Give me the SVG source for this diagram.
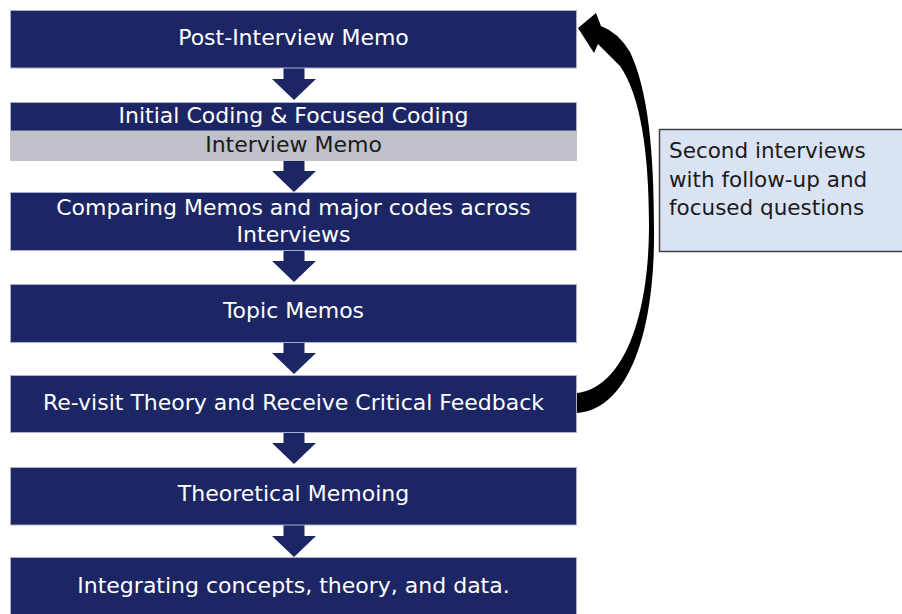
<svg xmlns="http://www.w3.org/2000/svg" width="902" height="614" viewBox="0 0 902 614">
  <style>
    .step { fill: #1c2664; stroke: #a9b0cc; stroke-width: 1; }
    .band { fill: #bfc0c8; }
    .lbl { font-family: "DejaVu Sans", "Liberation Sans", sans-serif; font-size: 22px; fill: #ffffff; text-anchor: middle; }
    .dark { fill: #1a1a1a; }
    .note { fill: #dae3f3; stroke: #404040; stroke-width: 1.5; }
    .notetxt { font-family: "DejaVu Sans", "Liberation Sans", sans-serif; font-size: 21.5px; fill: #1a1a1a; }
    .down { fill: #1c2664; }
  </style>
  <defs>
    <!-- block arrow pointing down, origin at the top centre of the shaft -->
    <path id="down-arrow" d="M-10.5,0 H10.5 V11 H22 L0,32 L-22,11 H-10.5 Z"/>
  </defs>

  <g id="connectors">
    <use href="#down-arrow" class="down" transform="translate(294,68)"/>
    <use href="#down-arrow" class="down" transform="translate(294,160)"/>
    <use href="#down-arrow" class="down" transform="translate(294,250)"/>
    <use href="#down-arrow" class="down" transform="translate(294,342)"/>
    <use href="#down-arrow" class="down" transform="translate(294,432)"/>
    <use href="#down-arrow" class="down" transform="translate(294,525)"/>
    <!-- curved feedback arrow from "Re-visit Theory" back up to the first step -->
    <path id="feedback-arrow" fill="#000000"
          d="M577,413 C625,410 655,340 654,230 C654,150 648,90 630,52 Q619,33 601,26
             L596,13 L578,28 L594,53 L598,44
             Q609,55 620,66 C640,95 649,150 649,225 C649,320 622,388 577,393 Z"/>
  </g>

  <g id="post-interview-memo">
    <rect class="step" x="10.5" y="10.5" width="566" height="57.5"/>
    <text class="lbl" x="293.5" y="45">Post-Interview Memo</text>
  </g>

  <g id="initial-coding">
    <rect class="step" x="10.5" y="102.5" width="566" height="28.5"/>
    <rect class="band" x="10" y="131" width="567" height="30"/>
    <text class="lbl" x="293.5" y="123">Initial Coding &amp; Focused Coding</text>
    <text class="lbl dark" x="293.5" y="152">Interview Memo</text>
  </g>

  <g id="comparing-memos">
    <rect class="step" x="10.5" y="192.5" width="566" height="58"/>
    <text class="lbl" x="293.5" y="215">Comparing Memos and major codes across</text>
    <text class="lbl" x="293.5" y="242">Interviews</text>
  </g>

  <g id="topic-memos">
    <rect class="step" x="10.5" y="284.5" width="566" height="58"/>
    <text class="lbl" x="293.5" y="318">Topic Memos</text>
  </g>

  <g id="revisit-theory">
    <rect class="step" x="10.5" y="375.5" width="566" height="57"/>
    <text class="lbl" x="293.5" y="410">Re-visit Theory and Receive Critical Feedback</text>
  </g>

  <g id="theoretical-memoing">
    <rect class="step" x="10.5" y="467.5" width="566" height="57.5"/>
    <text class="lbl" x="293.5" y="501">Theoretical Memoing</text>
  </g>

  <g id="integrating">
    <rect class="step" x="10.5" y="557.5" width="566" height="60"/>
    <text class="lbl" x="293.5" y="593">Integrating concepts, theory, and data.</text>
  </g>

  <g id="second-interviews">
    <rect class="note" x="659.5" y="129.5" width="250" height="122"/>
    <text class="notetxt" x="669" y="158">Second interviews</text>
    <text class="notetxt" x="669" y="187">with follow-up and</text>
    <text class="notetxt" x="669" y="215">focused questions</text>
  </g>
</svg>
